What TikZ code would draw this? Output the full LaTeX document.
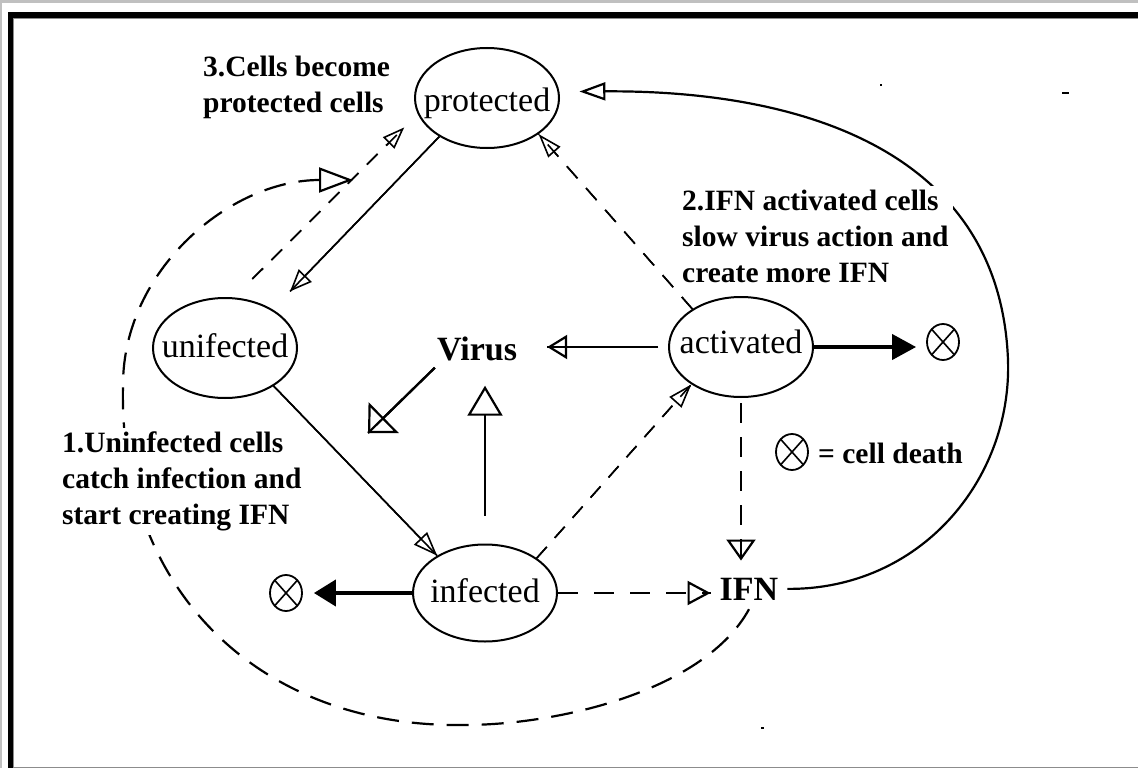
\documentclass[tikz,border=0pt]{standalone}
\usepackage{fontspec}
\setmainfont{Liberation Serif}
\usetikzlibrary{arrows.meta,shapes.geometric,calc}
\definecolor{bggrey}{RGB}{192,192,192}
\definecolor{edgegrey}{RGB}{140,140,140}
\tikzset{
  cell/.style={ellipse, draw, line width=2pt, minimum width=144pt, minimum height=100pt, inner sep=0pt},
  lbl/.style={font=\fontsize{34}{40}\selectfont, text height=24pt, text depth=6pt, inner sep=0pt},
  note/.style={align=left, font=\fontsize{29.5}{36}\selectfont\bfseries, fill=white, inner sep=4pt, anchor=north west},
  big/.style={font=\fontsize{34}{40}\selectfont\bfseries},
  death/.style={ellipse, draw, line width=1.8pt, minimum width=32pt, minimum height=36pt, inner sep=0pt,
    path picture={\draw[line width=1.6pt] (path picture bounding box.north west) -- (path picture bounding box.south east)
      (path picture bounding box.north east) -- (path picture bounding box.south west);}},
  thin/.style={line width=1.6pt},
  mid/.style={line width=2.2pt},
  heavy/.style={line width=4pt},
  oa/.style n args={2}{-{Triangle[open,length=#1pt,width=#2pt]}, postaction={draw,-}},
  ob/.style n args={2}{-{Triangle[open,length=#1pt,width=#2pt]}},
  fa/.style n args={2}{-{Triangle[length=#1pt,width=#2pt]}},
  shortdash/.style={dash pattern=on 15pt off 12pt},
  longdash/.style={dash pattern=on 22pt off 13pt},
}
\begin{document}
\begin{tikzpicture}[x=1pt,y=-1pt]
\useasboundingbox (0,0) rectangle (1138,768);
% window frame
\fill[bggrey] (0,0) rectangle (1138,768);
\fill[white] (2,3) rectangle (1138,768);
\fill[black] (8,12) rectangle (1138,18);
\fill[black] (8,12) rectangle (13,768);
\draw[edgegrey,line width=1pt] (13.5,18) -- (13.5,768) (13,18.5) -- (1138,18.5);
\draw[edgegrey,line width=1.2pt] (13,767.4) -- (1138,767.4);

% cells
\node[cell, label={[lbl,yshift=-4pt]center:protected}] (P) at (487,98) {};
\node[cell, label={[lbl]center:unifected}] (U) at (225,348) {};
\node[cell, label={[lbl,yshift=3pt]center:activated}] (A) at (741,347) {};
\node[cell, minimum height=97pt, label={[lbl]center:infected}] (I) at (485,593) {};
\node[big, anchor=base, inner sep=0pt] (V) at (477,360) {Virus};
\node[big, anchor=base, inner sep=9pt] (IFN) at (749,600) {IFN};
\node[death] (d1) at (286,593) {};
\node[death] (d2) at (943,342) {};
\node[death] (d3) at (792,452) {};
\coordinate (c3) at (353,180);
\coordinate (vend) at (368,433);

% connectors
\draw[thin, oa={22}{18}, shorten >=25pt] (P.219) -- (U.39);
\draw[thin, shortdash, oa={22}{16}, shorten <=26pt, shorten >=19pt] (U.80) -- (P.193);
\draw[mid, longdash, ob={34}{25}] (IFN.south) .. controls (705,690) and (560,725) .. (464,725)
   .. controls (260,728) and (118,590) .. (123,385)
   .. controls (123,270) and (230,180) .. (c3);
\draw[mid, ob={26}{18}, shorten >=20pt] (IFN.east) .. controls (920,590) and (1012,480) .. (1008,360)
   .. controls (1000,150) and (800,90) .. (P.5);
\draw[thin, dash pattern=on 16pt off 13pt, oa={24}{16}] (A.142) -- (P.325);
\draw[thin, oa={24}{18}] (U.322) -- (I.142);
\draw[thin, shortdash, oa={24}{16}] (I.34) -- (A.217);
\draw[mid, ob={30}{35}] ($(I.north)+(0,-28)$) -- ($(I.north |- V.south)+(0,25)$);
\draw[mid, oa={22}{43}] ($(V.south west)+(-2,7)$) -- (vend);
\draw[mid, oa={20}{24}, shorten <=10pt, shorten >=30pt] (A.west) -- (A.west -| V.east);
\draw[heavy, fa={24}{25}, shorten >=10pt] (A.east) -- (A.east -| d2.west);
\draw[heavy, fa={22}{26}, shorten >=11pt] (I.west) -- (I.west -| d1.east);
\draw[mid, dash pattern=on 20pt off 16pt, oa={23}{24}] (I.east) -- (I.east -| IFN.west);
\draw[mid, dash pattern=on 20pt off 14pt, oa={21}{29}, shorten <=5pt, shorten >=8pt] (A.south) -- (A.south |- IFN.north);

% annotations
\node[note] (n3) at (199,52) {3.Cells become\\protected cells};
\node[note] (n2) at (678,186) {2.IFN activated cells\\slow virus action and\\create more IFN};
\node[note] (n1) at (58,428) {1.Uninfected cells\\catch infection and\\start creating IFN};
\node[font=\fontsize{29.5}{36}\selectfont\bfseries, anchor=base west, inner sep=0pt] (leg) at (818,463) {= cell death};

% stray marks
\fill (880,84) rectangle (882,86);
\fill (1062,92) rectangle (1069,94);
\fill (761,727) rectangle (764,729);
\end{tikzpicture}
\end{document}
